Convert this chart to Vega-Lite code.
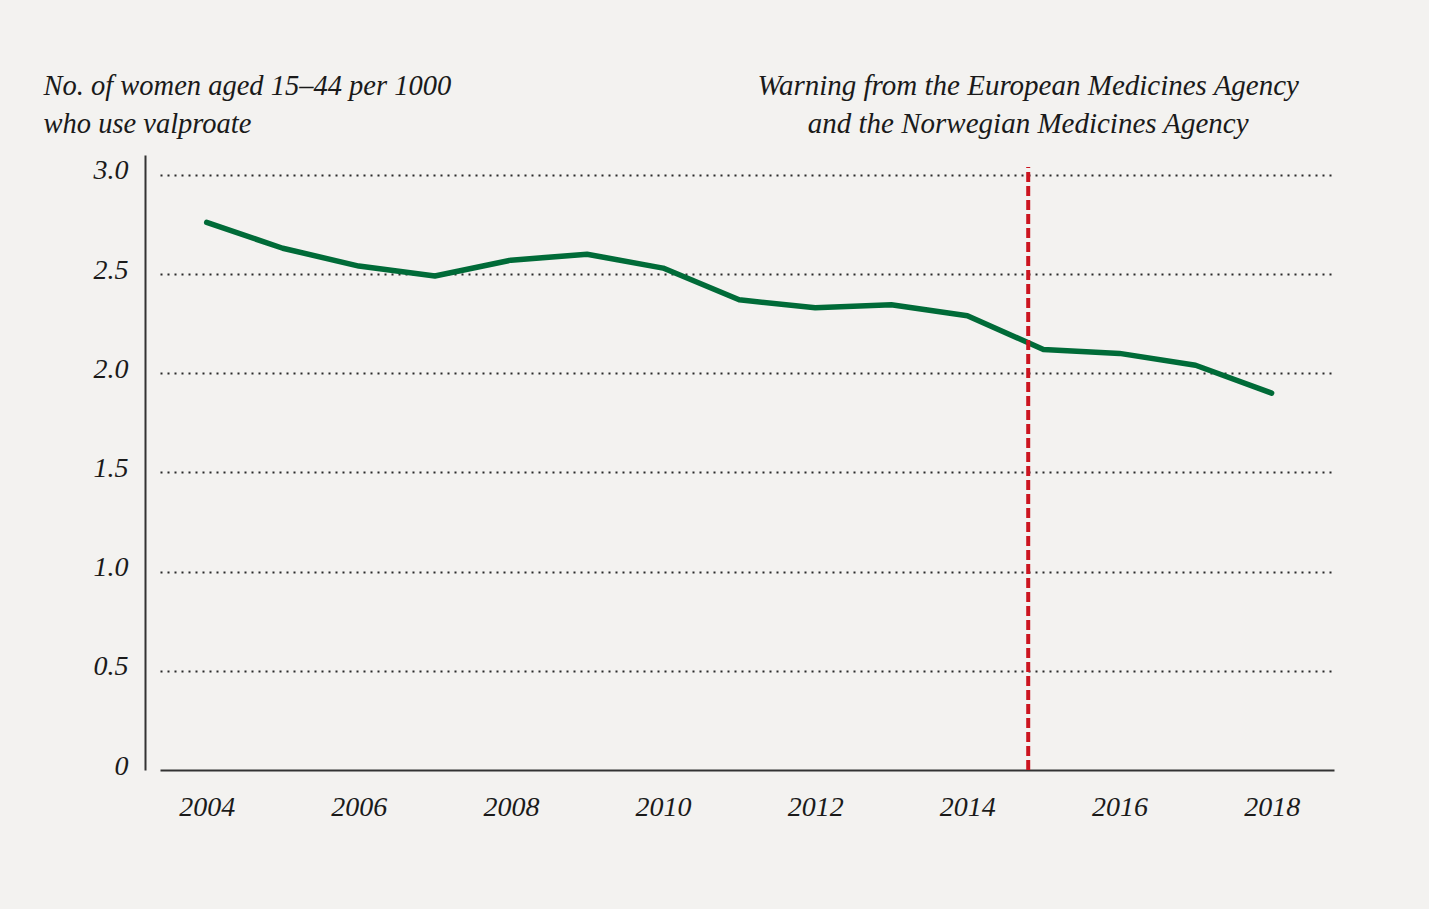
{
  "$schema": "https://vega.github.io/schema/vega-lite/v6.json",
  "autosize": "none",
  "width": 1174,
  "height": 615,
  "padding": {"left": 160, "top": 155, "right": 95, "bottom": 139},
  "background": "#f3f2f0",
  "config": {
    "view": {"stroke": null},
    "font": "Liberation Serif",
    "axis": {"labelFont": "Liberation Serif", "titleFont": "Liberation Serif"}
  },
  "datasets": {
    "series": [
      {"year": 2004, "value": 2.76},
      {"year": 2005, "value": 2.63},
      {"year": 2006, "value": 2.54},
      {"year": 2007, "value": 2.49},
      {"year": 2008, "value": 2.57},
      {"year": 2009, "value": 2.60},
      {"year": 2010, "value": 2.53},
      {"year": 2011, "value": 2.37},
      {"year": 2012, "value": 2.33},
      {"year": 2013, "value": 2.345},
      {"year": 2014, "value": 2.29},
      {"year": 2015, "value": 2.12},
      {"year": 2016, "value": 2.10},
      {"year": 2017, "value": 2.04},
      {"year": 2018, "value": 1.90}
    ],
    "warning": [
      {"year": 2014.8, "start": 0, "end": 3.04, "labelY": 3.402, "label": "Warning from the European Medicines Agency\nand the Norwegian Medicines Agency"}
    ]
  },
  "layer": [
    {
      "data": {"name": "series"},
      "mark": {"type": "line", "color": "#006b38", "strokeWidth": 5.5, "strokeCap": "round", "strokeJoin": "round"},
      "encoding": {
        "x": {
          "field": "year", "type": "quantitative",
          "scale": {"domain": [2003.386, 2018.82], "nice": false, "zero": false},
          "axis": {
            "values": [2004, 2006, 2008, 2010, 2012, 2014, 2016, 2018],
            "format": "d",
            "title": null,
            "grid": false,
            "ticks": false,
            "domain": true,
            "domainColor": "#333333",
            "domainWidth": 2,
            "labelFontSize": 28,
            "labelFontStyle": "italic",
            "labelColor": "#1a1a1a",
            "labelPadding": 23
          }
        },
        "y": {
          "field": "value", "type": "quantitative",
          "scale": {"domain": [0, 3.1], "nice": false, "zero": true},
          "axis": {
            "values": [0, 0.5, 1, 1.5, 2, 2.5, 3],
            "labelExpr": "datum.value == 0 ? '0' : format(datum.value, '.1f')",
            "offset": 15,
            "ticks": false,
            "domain": true,
            "domainColor": "#333333",
            "domainWidth": 2,
            "grid": true,
            "gridColor": "#2a2a2a",
            "gridDash": [2, 5],
            "gridWidth": 2,
            "gridOpacity": {"condition": {"test": "datum.value == 0", "value": 0}, "value": 1},
            "labelFontSize": 28,
            "labelFontStyle": "italic",
            "labelColor": "#1a1a1a",
            "labelPadding": 17,
            "labelOffset": -4,
            "title": ["No. of women aged 15–44 per 1000", "who use valproate"],
            "titleAngle": 0,
            "titleAlign": "left",
            "titleBaseline": "alphabetic",
            "titleX": -102,
            "titleY": -61,
            "titleFontSize": 28.5,
            "titleFontStyle": "italic",
            "titleFontWeight": "normal",
            "titleColor": "#1a1a1a",
            "titleLineHeight": 38
          }
        }
      }
    },
    {
      "data": {"name": "warning"},
      "mark": {"type": "rule", "color": "#cc1520", "strokeWidth": 4, "strokeDash": [10, 4]},
      "encoding": {
        "x": {"field": "year", "type": "quantitative"},
        "y": {"field": "start", "type": "quantitative"},
        "y2": {"field": "end"}
      }
    },
    {
      "data": {"name": "warning"},
      "mark": {"type": "text", "align": "center", "baseline": "alphabetic", "fontSize": 29, "fontStyle": "italic", "color": "#1a1a1a", "lineBreak": "\n", "lineHeight": 38},
      "encoding": {
        "x": {"field": "year", "type": "quantitative"},
        "y": {"field": "labelY", "type": "quantitative"},
        "text": {"field": "label"}
      }
    }
  ]
}
